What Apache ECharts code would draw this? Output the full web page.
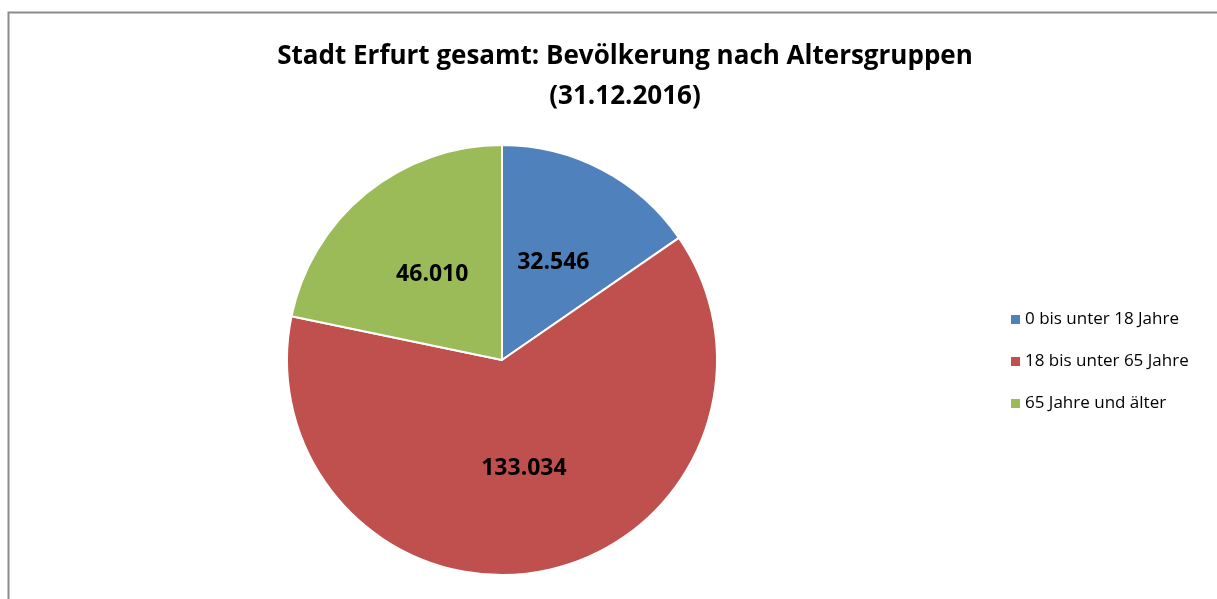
<!DOCTYPE html>
<html>
<head>
<meta charset="utf-8">
<script src="https://cdn.jsdelivr.net/npm/echarts@6/dist/echarts.min.js"></script>
<style>
  html, body { margin: 0; padding: 0; background: #fff; }
  #chart { width: 1217px; height: 599px; }
</style>
</head>
<body>
<div id="chart"></div>
<script>
const categories = ["0 bis unter 18 Jahre", "18 bis unter 65 Jahre", "65 Jahre und älter"];
const values = [32546, 133034, 46010];
const colors = ["#4f81bd", "#c0504d", "#9bbb59"];

const fontFamily = "'Open Sans', 'Liberation Sans', sans-serif";

// Tausenderpunkt wie im Original
function fmt(v) {
  return String(v).replace(/\B(?=(\d{3})+(?!\d))/g, ".");
}

let chart = echarts.init(document.getElementById("chart"));
chart.setOption({
  animation: false,
  graphic: [{
    type: "rect",
    shape: { x: 8.5, y: 12.5, width: 1220, height: 600 },
    style: { fill: "none", stroke: "#8c8c8c", lineWidth: 2 }
  }],
  title: {
    text: "Stadt Erfurt gesamt: Bevölkerung nach Altersgruppen\n(31.12.2016)",
    left: 620,
    top: 32,
    textAlign: "center",
    textStyle: {
      fontFamily: fontFamily,
      fontSize: 26,
      fontWeight: "bold",
      color: "#000",
      lineHeight: 40
    }
  },
  legend: {
    orient: "vertical",
    left: 1004,
    top: 306,
    itemWidth: 11,
    itemHeight: 11,
    itemGap: 25,
    icon: "rect",
    data: categories,
    textStyle: { fontFamily: fontFamily, fontSize: 17, color: "#000", padding: [0, 0, 0, -1] }
  },
  series: [{
    type: "pie",
    center: [502, 360],
    radius: [0, 215],
    startAngle: 90,
    clockwise: true,
    color: colors,
    itemStyle: { borderColor: "#fff", borderWidth: 2 },
    label: {
      position: "inside",
      formatter: p => fmt(p.value),
      fontFamily: fontFamily,
      fontSize: 23,
      fontWeight: "bold",
      color: "#000"
    },
    labelLine: { show: false },
    data: categories.map((name, i) => ({ name: name, value: values[i] }))
  }]
});
</script>
</body>
</html>
